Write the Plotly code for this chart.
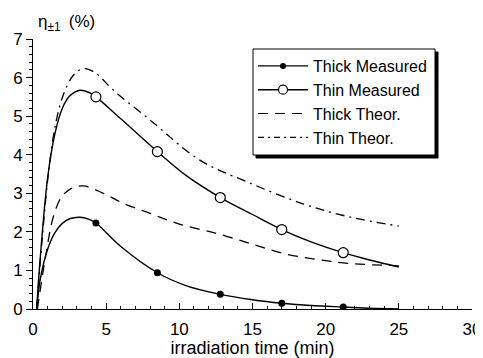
import plotly.graph_objects as go

# measured points
meas_t = [4.3, 8.5, 12.8, 17.0, 21.2]
thick_meas = [2.23, 0.94, 0.38, 0.15, 0.05]
thin_meas = [5.5, 4.08, 2.89, 2.06, 1.46]

# fitted curves through measured points
fit_t = [0.25, 0.5, 1.0, 1.5, 2.0, 2.5, 3.2, 3.8, 4.3, 6.0, 8.5, 10.5, 12.8, 15.0, 17.0, 19.0, 21.2, 23.0, 25.0]
thick_fit = [0.0, 0.78, 1.55, 1.98, 2.22, 2.34, 2.38, 2.33, 2.23, 1.62, 0.94, 0.6, 0.38, 0.24, 0.15, 0.09, 0.05, 0.02, 0.0]
thin_fit = [0.0, 1.35, 3.4, 4.55, 5.2, 5.52, 5.67, 5.62, 5.5, 4.93, 4.08, 3.45, 2.89, 2.45, 2.06, 1.74, 1.46, 1.27, 1.09]

# theoretical curves
thick_th_t = [0.3, 0.82, 1.39, 1.96, 2.6, 3.44, 4.8, 6.17, 8.0, 10.0, 12.55, 15.0, 17.1, 19.5, 21.7, 25.0]
thick_th = [0.0, 1.27, 2.39, 2.91, 3.12, 3.19, 3.0, 2.74, 2.48, 2.2, 1.96, 1.68, 1.44, 1.28, 1.18, 1.12]
thin_th_t = [0.25, 0.6, 1.16, 1.6, 2.07, 2.6, 3.0, 3.44, 4.0, 4.5, 5.5, 8.0, 11.4, 14.6, 18.5, 21.7, 25.0]
thin_th = [0.0, 1.7, 3.86, 4.9, 5.55, 5.98, 6.15, 6.23, 6.18, 6.05, 5.67, 4.9, 3.86, 3.3, 2.72, 2.38, 2.15]

FONT = "Liberation Sans, Arial, Helvetica, sans-serif"
fig = go.Figure()

# curves (no legend)
fig.add_trace(go.Scatter(x=fit_t, y=thick_fit, mode="lines", line=dict(color="black", width=1.4, shape="spline"), showlegend=False, hoverinfo="skip"))
fig.add_trace(go.Scatter(x=fit_t, y=thin_fit, mode="lines", line=dict(color="black", width=1.4, shape="spline"), showlegend=False, hoverinfo="skip"))
fig.add_trace(go.Scatter(x=thick_th_t, y=thick_th, mode="lines", line=dict(color="black", width=1.3, shape="spline", dash="10px,7px"), showlegend=False))
fig.add_trace(go.Scatter(x=thin_th_t, y=thin_th, mode="lines", line=dict(color="black", width=1.3, shape="spline", dash="9px,5px,2px,5px"), showlegend=False))
# measured markers
fig.add_trace(go.Scatter(x=meas_t, y=thick_meas, mode="markers", marker=dict(color="black", size=7, symbol="circle"), showlegend=False))
fig.add_trace(go.Scatter(x=meas_t, y=thin_meas, mode="markers", marker=dict(color="white", size=10, symbol="circle", line=dict(color="black", width=1.2)), showlegend=False))

# legend entries
fig.add_trace(go.Scatter(x=[None], y=[None], mode="lines+markers", name="Thick Measured",
                         line=dict(color="black", width=1.4), marker=dict(color="black", size=6)))
fig.add_trace(go.Scatter(x=[None], y=[None], mode="lines+markers", name="Thin Measured",
                         line=dict(color="black", width=1.4), marker=dict(color="white", size=9, line=dict(color="black", width=1.2))))
fig.add_trace(go.Scatter(x=[None], y=[None], mode="lines", name="Thick Theor.",
                         line=dict(color="black", width=1.2, dash="10px,7px")))
fig.add_trace(go.Scatter(x=[None], y=[None], mode="lines", name="Thin Theor.",
                         line=dict(color="black", width=1.2, dash="6px,4px,2px,4px")))

# page has an 8px body margin: figure pixel = reference pixel - 8
OFF = 8
W, H = 483 - OFF, 358 - OFF
L, T = 33 - OFF, 39 - OFF
R, B = 11, 49
pw, ph = W - L - R, H - T - B

def px_x(p):
    return (p - OFF - L) / pw

def px_y(p):
    return (H - B - (p - OFF)) / ph

# legend frame with drop shadow
fig.add_shape(type="rect", xref="paper", yref="paper",
              x0=px_x(256), x1=px_x(438), y0=px_y(158), y1=px_y(52),
              fillcolor="black", line=dict(color="black", width=1), layer="above")
fig.add_shape(type="rect", xref="paper", yref="paper",
              x0=px_x(253), x1=px_x(435), y0=px_y(155), y1=px_y(49),
              fillcolor="white", line=dict(color="black", width=1), layer="above")

fig.update_layout(
    width=W, height=H,
    margin=dict(l=L, r=R, t=T, b=B, autoexpand=False),
    paper_bgcolor="white", plot_bgcolor="white",
    font=dict(family=FONT, color="black", size=16),
    showlegend=True,
    legend=dict(x=px_x(253), y=px_y(49), xanchor="left", yanchor="top",
                bgcolor="rgba(0,0,0,0)", borderwidth=0,
                font=dict(size=16, family=FONT), tracegroupgap=0,
                itemwidth=50),
    xaxis=dict(range=[0, 30], tickvals=[0, 5, 10, 15, 20, 25, 30], showgrid=False, zeroline=False,
               automargin=False,
               showline=True, linecolor="black", linewidth=1,
               ticks="inside", ticklen=6, tickcolor="black", tickwidth=1,
               tickfont=dict(size=17), ticklabelstandoff=5,
               minor=dict(dtick=1, ticks="inside", ticklen=3, tickcolor="black", showgrid=False),
               title=dict(text="irradiation time (min)", font=dict(size=18), standoff=0)),
    yaxis=dict(range=[0, 7], dtick=1, showgrid=False, zeroline=False,
               automargin=False,
               showline=True, linecolor="black", linewidth=1,
               ticks="outside", ticklen=6, tickcolor="black", tickwidth=1,
               tickfont=dict(size=17),
               minor=dict(dtick=0.2, ticks="outside", ticklen=3, tickcolor="black", showgrid=False)),
    annotations=[dict(text="η<sub>±1</sub>\u2009 (%)", xref="paper", yref="paper",
                      x=px_x(36), y=px_y(10), xanchor="left", yanchor="top",
                      showarrow=False, font=dict(size=17, family=FONT))],
)

fig.write_html("out.html")
